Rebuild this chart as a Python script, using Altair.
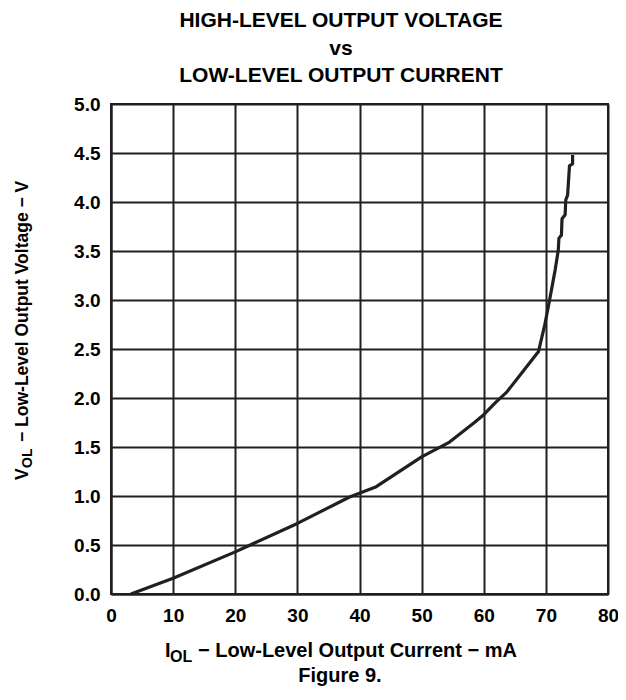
import altair as alt
import pandas as pd

# ---- data ----
current_ma = [3.2, 10, 20, 30, 38.4, 42.7, 50, 54.5, 58.5, 60, 62, 63.7, 66.3, 68.5,
              68.8, 69.8, 70.6, 71.5, 72.0, 72.1, 72.5, 72.6, 73.1, 73.2, 73.5, 73.8,
              74.3, 74.3]
voltage_v = [0.0, 0.16, 0.43, 0.72, 0.99, 1.095, 1.40, 1.55, 1.75, 1.83, 1.96, 2.06,
             2.27, 2.45, 2.47, 2.74, 3.0, 3.31, 3.51, 3.63, 3.66, 3.83, 3.87, 4.02,
             4.07, 4.37, 4.39, 4.48]
x_ticks = [0, 10, 20, 30, 40, 50, 60, 70, 80]
y_ticks = [0.0, 0.5, 1.0, 1.5, 2.0, 2.5, 3.0, 3.5, 4.0, 4.5, 5.0]
title_lines = ["HIGH-LEVEL OUTPUT VOLTAGE", "vs", "LOW-LEVEL OUTPUT CURRENT"]
x_title_parts = ["I", "OL", "\u2212 Low-Level Output Current \u2212 mA"]
y_title_parts = ["V", "OL", "\u2212 Low-Level Output Voltage \u2212 V"]
figure_label = ["Figure 9."]

INK = "#231f20"
FONT = "Liberation Sans"

df = pd.DataFrame({"i": current_ma, "v": voltage_v, "order": list(range(len(current_ma)))})

curve = alt.Chart(df).mark_line(color=INK, strokeWidth=3.2, strokeJoin="round").encode(
    x=alt.X("i:Q", scale=alt.Scale(domain=[0, 80], nice=False, zero=False),
            axis=alt.Axis(values=x_ticks, format="d", title=None, labelPadding=12)),
    y=alt.Y("v:Q", scale=alt.Scale(domain=[0, 5], nice=False),
            axis=alt.Axis(values=y_ticks, format=".1f", title=None, labelPadding=11)),
    order="order:O",
)


def txt(value, x, y, size=20, align="left", angle=0, font=FONT):
    d = pd.DataFrame({"t": [value]})
    kw = dict(font=font, fontSize=size, fontWeight="bold", color="black",
              align=align, baseline="alphabetic")
    if angle:
        kw["angle"] = angle
    return alt.Chart(d).mark_text(**kw).encode(
        text="t:N", x=alt.value(x), y=alt.value(y))


layers = [curve]
# main title
for k, line in enumerate(title_lines):
    layers.append(txt(line, 230, -77 + 27.5 * k, size=21, align="center"))
# x axis title with subscript
layers.append(txt(x_title_parts[0], 54, 552.7, size=20))
layers.append(txt(x_title_parts[1], 59, 558, size=16))
layers.append(txt(x_title_parts[2], 87, 552.7, size=20))
# y axis title with subscript (rotated)
layers.append(txt(y_title_parts[0], -83, 376, size=17.5, angle=270))
layers.append(txt(y_title_parts[1], -79, 364, size=14, angle=270))
layers.append(txt(y_title_parts[2], -83, 338, size=17.5, angle=270))
# figure caption
layers.append(txt(figure_label[0], 229, 578, size=20, align="center"))

chart = alt.layer(*layers).properties(
    width=497, height=490,
    autosize=alt.AutoSizeParams(type="none"),
    padding={"left": 103, "top": 96, "right": 10, "bottom": 96},
).configure_view(
    stroke=INK, strokeWidth=2
).configure_axis(
    labelFont=FONT, labelFontSize=19, labelFontWeight="bold", labelColor="black",
    grid=True, gridColor=INK, gridWidth=2, gridOpacity=1,
    domainColor=INK, domainWidth=2, ticks=False,
    labelOverlap=False, labelFlush=False,
)

chart.save("out.html", embed_options={"renderer": "svg", "actions": False})
